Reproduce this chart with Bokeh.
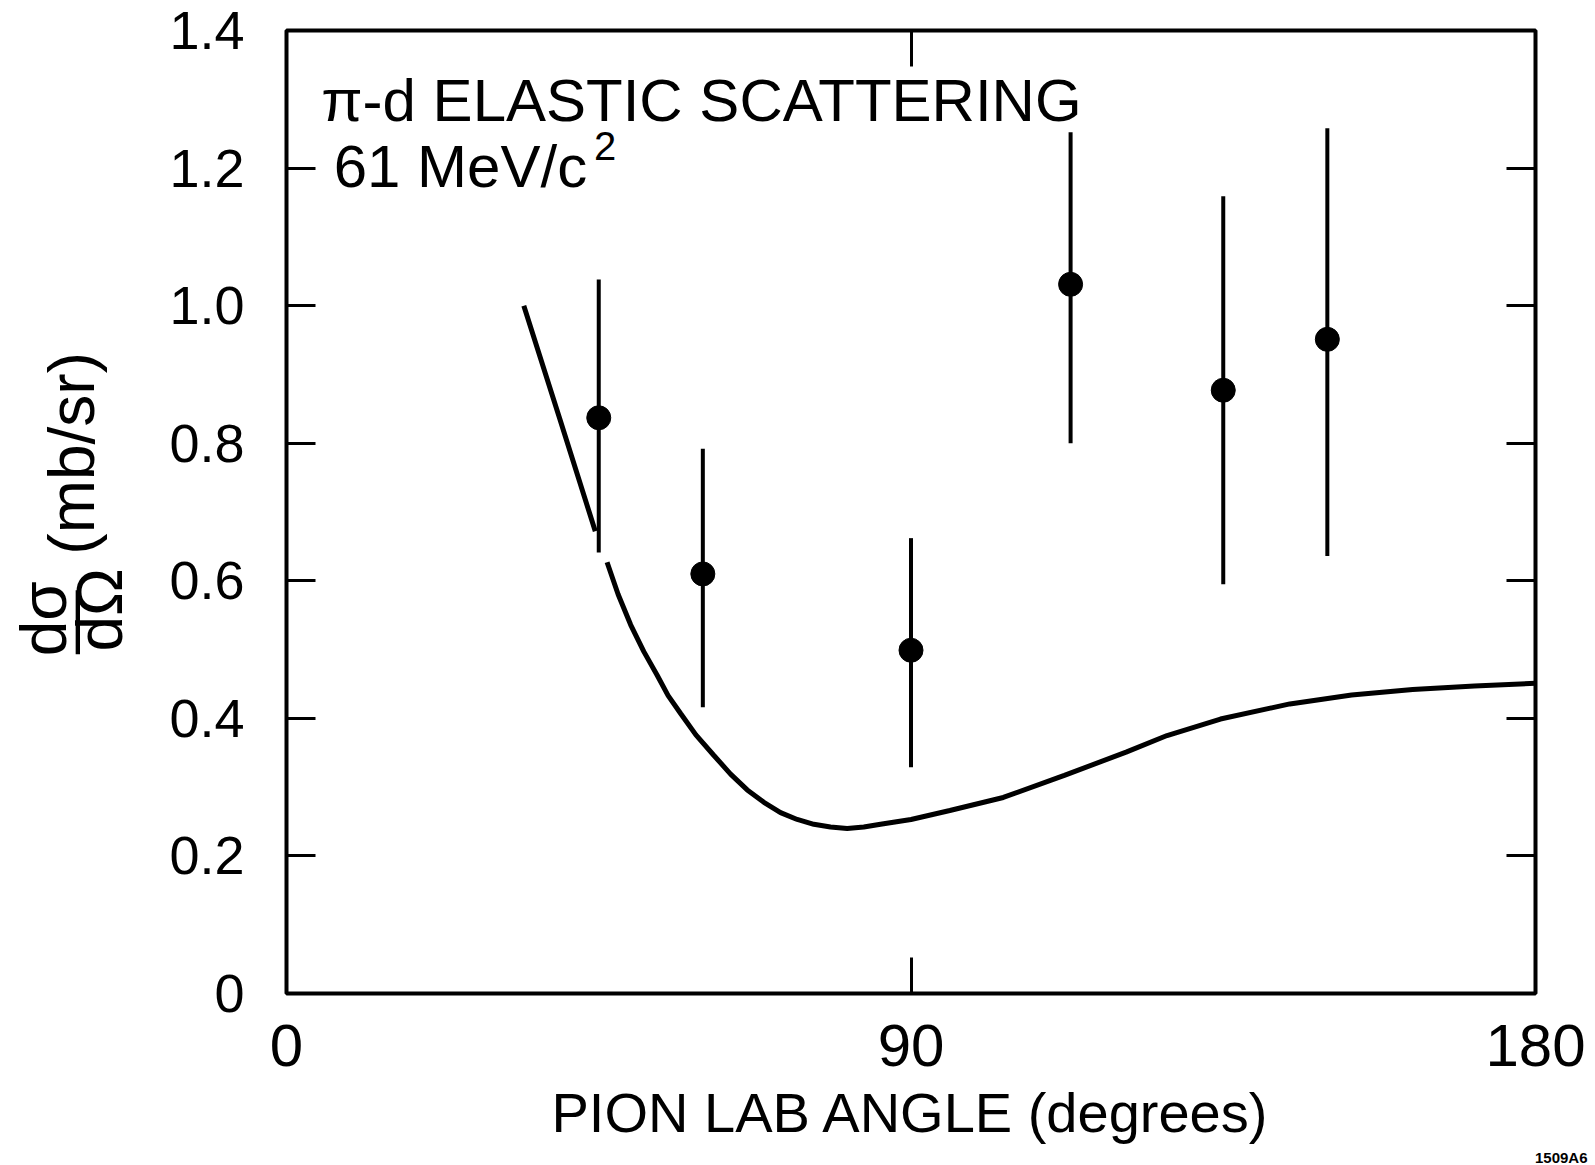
from bokeh.plotting import figure
from bokeh.models import Range1d, LinearAxis, FixedTicker, Label, Title
from bokeh.embed import file_html
from bokeh.resources import INLINE

# ---------------- data ----------------
angle_deg = [45, 60, 90, 113, 135, 150]
cross_section = [0.837, 0.610, 0.499, 1.031, 0.877, 0.951]
err_upper = [1.038, 0.792, 0.662, 1.252, 1.159, 1.258]
err_lower = [0.641, 0.416, 0.329, 0.800, 0.595, 0.636]

theory_a_x = [34.2, 39.3, 44.5]
theory_a_y = [1.000, 0.838, 0.672]

theory_b_x = [46.2, 47.8, 49.6, 51.5, 53.4, 55.0, 56.8, 59.0, 61.6, 64.0, 66.4, 68.8, 71.2,
              73.6, 76.0, 78.4, 80.8, 83.2, 85.6, 90.0, 95.6, 103.3, 112.1, 121.0, 126.9,
              134.6, 144.6, 153.5, 162.3, 171.2, 180.0]
theory_b_y = [0.627, 0.580, 0.536, 0.497, 0.463, 0.433, 0.407, 0.376, 0.346, 0.319, 0.296,
              0.278, 0.263, 0.253, 0.246, 0.242, 0.240, 0.242, 0.246, 0.253, 0.266, 0.285,
              0.317, 0.351, 0.375, 0.399, 0.421, 0.434, 0.442, 0.447, 0.451]

y_ticks = [0, 0.2, 0.4, 0.6, 0.8, 1.0, 1.2, 1.4]
y_tick_labels = ["0", "0.2", "0.4", "0.6", "0.8", "1.0", "1.2", "1.4"]
x_ticks = [0, 90, 180]
x_tick_labels = ["0", "90", "180"]

FONT = "Liberation Sans"
NB = "\u00a0"
y_label = (NB + "dσ" + NB * 13 + "\n" +
           NB + "—" + NB * 2 + "(mb/sr)" + "\n" +
           NB + "dΩ" + NB * 12)

p = figure(width=1595, height=1165,
           x_range=Range1d(0, 180), y_range=Range1d(0, 1.4),
           output_backend="svg", toolbar_location=None,
           x_axis_location=None, y_axis_location=None,
           min_border_left=286, min_border_right=60,
           min_border_top=30, min_border_bottom=170)
p.background_fill_color = "white"
p.border_fill_color = "white"
p.outline_line_color = "black"
p.outline_line_width = 4
p.xgrid.visible = False
p.ygrid.visible = False

def style_axis(ax, tick_len, labels=True, size="56px", standoff=40):
    ax.axis_line_color = None
    ax.major_tick_in = tick_len
    ax.major_tick_out = 0
    ax.minor_tick_in = 0
    ax.minor_tick_out = 0
    ax.major_tick_line_width = 3
    ax.major_tick_line_color = "black"
    ax.major_label_text_font = FONT
    ax.major_label_standoff = standoff
    if labels:
        ax.major_label_text_font_size = size
        ax.major_label_text_color = "black"
    else:
        ax.major_label_text_font_size = "1px"
        ax.major_label_text_color = None

left = LinearAxis(ticker=FixedTicker(ticks=y_ticks),
                  major_label_overrides={t: s for t, s in zip(y_ticks, y_tick_labels)},
                  axis_label=y_label)
style_axis(left, 29, True, "54px", 42)
left.axis_label_text_font = FONT
left.axis_label_text_font_size = "64px"
left.axis_label_text_font_style = "normal"
left.axis_label_text_color = "black"
left.axis_label_text_line_height = 0.39
left.axis_label_standoff = 30
p.add_layout(left, "left")

right = LinearAxis(ticker=FixedTicker(ticks=y_ticks))
style_axis(right, 29, False)
p.add_layout(right, "right")

bottom = LinearAxis(ticker=FixedTicker(ticks=x_ticks),
                    major_label_overrides={t: s for t, s in zip(x_ticks, x_tick_labels)},
                    axis_label="PION LAB ANGLE (degrees)")
style_axis(bottom, 36, True, "60px", 31)
bottom.axis_label_text_font = FONT
bottom.axis_label_text_font_size = "56px"
bottom.axis_label_text_font_style = "normal"
bottom.axis_label_text_color = "black"
bottom.axis_label_standoff = 12
p.add_layout(bottom, "below")

top = LinearAxis(ticker=FixedTicker(ticks=[90]))
style_axis(top, 36, False)
p.add_layout(top, "above")

p.add_layout(Title(text="1509A6", align="right", offset=-52, standoff=0,
                   text_font=FONT, text_font_size="15px", text_font_style="bold",
                   text_color="black"), "below")

# theory curve (two drawn pieces)
p.line(theory_a_x, theory_a_y, line_color="black", line_width=5)
p.line(theory_b_x, theory_b_y, line_color="black", line_width=5)

# data with error bars
p.segment(x0=angle_deg, y0=err_lower, x1=angle_deg, y1=err_upper,
          line_color="black", line_width=4)
p.scatter(angle_deg, cross_section, size=24, fill_color="black", line_color="black")

# title text inside the frame
p.add_layout(Label(x=5.0, y=1.298, text="π-d ELASTIC SCATTERING",
                   text_font=FONT, text_font_size="60px", text_color="black",
                   text_baseline="alphabetic", text_align="left"))
p.add_layout(Label(x=6.8, y=1.202, text="61 MeV/c",
                   text_font=FONT, text_font_size="60px", text_color="black",
                   text_baseline="alphabetic", text_align="left"))
p.add_layout(Label(x=44.3, y=1.232, text="2",
                   text_font=FONT, text_font_size="40px", text_color="black",
                   text_baseline="alphabetic", text_align="left"))

open("out.html", "w").write(file_html(p, INLINE))
